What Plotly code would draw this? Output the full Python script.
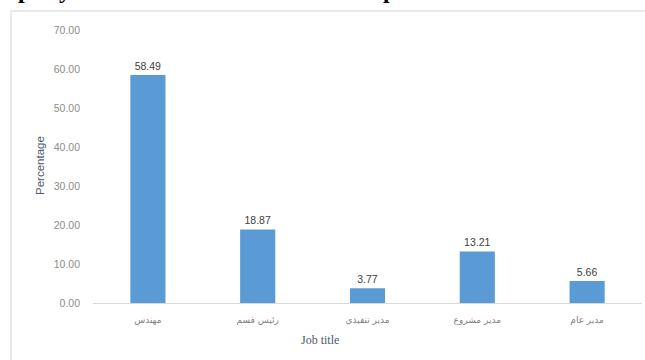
import plotly.graph_objects as go

# Job titles (x categories) and their share of respondents (%)
job_titles = ["مهندس", "رئيس قسم", "مدير تنفيذي", "مدير مشروع", "مدير عام"]
percentages = [58.49, 18.87, 3.77, 13.21, 5.66]
y_ticks = [0, 10, 20, 30, 40, 50, 60, 70]

W, H = 645, 360
L, R, T, B = 93, 3, 30, 57
plot_w = W - L - R
plot_h = H - T - B


def px_x(x):
    return (x - L) / plot_w


def px_y(y):
    return (H - B - y) / plot_h


fig = go.Figure(
    go.Bar(
        x=job_titles,
        y=percentages,
        marker=dict(color="#5B9BD5", line=dict(width=0)),
        text=[f"{v:.2f}" for v in percentages],
        textposition="outside",
        textfont=dict(family="Liberation Sans, DejaVu Sans", size=10.5, color="#404040"),
        cliponaxis=False,
    )
)

fig.update_layout(
    width=W,
    height=H,
    margin=dict(l=L, r=R, t=T, b=B),
    paper_bgcolor="white",
    plot_bgcolor="white",
    showlegend=False,
    bargap=0.68,
    font=dict(family="Liberation Sans, DejaVu Sans", size=10, color="#7f7f7f"),
)

fig.update_xaxes(
    showgrid=False,
    showline=True,
    linecolor="#d9d9d9",
    linewidth=1,
    ticks="",
    ticklabelstandoff=8,
    tickfont=dict(family="DejaVu Sans", size=9, color="#7f7f7f"),
)

fig.update_yaxes(
    range=[0, 70],
    tickvals=y_ticks,
    tickformat=".2f",
    showgrid=False,
    zeroline=False,
    showline=False,
    ticks="",
    ticklabelstandoff=12,
    tickfont=dict(size=10.5, color="#8c8c8c"),
)

# chart border
fig.add_shape(
    type="rect",
    xref="paper",
    yref="paper",
    x0=px_x(11),
    x1=px_x(W + 30),
    y0=px_y(H + 30),
    y1=px_y(11),
    line=dict(color="#e3e3e3", width=1.5),
    fillcolor="rgba(0,0,0,0)",
    layer="below",
)

# axis titles
fig.add_annotation(
    text="Percentage",
    xref="paper",
    yref="paper",
    x=px_x(32),
    y=px_y(166),
    textangle=-90,
    showarrow=False,
    font=dict(family="Liberation Sans", size=11.5, color="#4a5a70"),
)
fig.add_annotation(
    text="Job title",
    xref="paper",
    yref="paper",
    x=px_x(320),
    y=px_y(349),
    showarrow=False,
    font=dict(family="Liberation Serif", size=12, color="#4a5a70"),
)

# heading line of the page above, cut by the top edge
for ch, xp in [("p", 16), ("y", 57), ("p", 389)]:
    fig.add_annotation(
        text=f"<b>{ch}</b>",
        xref="paper",
        yref="paper",
        x=px_x(xp),
        y=px_y(5),
        yanchor="bottom",
        showarrow=False,
        font=dict(family="Liberation Serif", size=24, color="black"),
    )

fig.write_html("out.html")
